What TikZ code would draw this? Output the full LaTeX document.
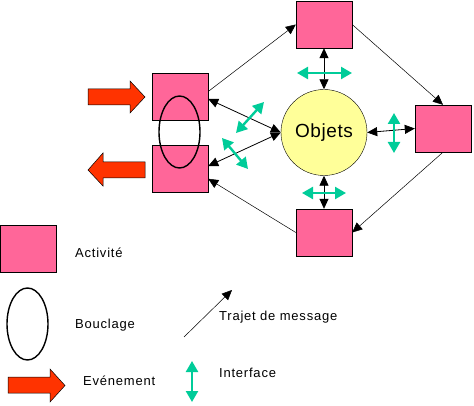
\documentclass[tikz,border=0pt]{standalone}
\usepackage{fontspec}
\setmainfont{Liberation Sans}
\usetikzlibrary{arrows.meta}

\definecolor{rose}{HTML}{FF6699}
\definecolor{jaune}{HTML}{FFFF99}
\definecolor{turquoise}{HTML}{00CC99}
\definecolor{rouge}{HTML}{FF3300}

\begin{document}
\begin{tikzpicture}[x=1pt,y=-1pt]
\tikzstyle{activite}=[draw, fill=rose, minimum width=56pt, minimum height=47pt, inner sep=0pt]
\tikzstyle{message}=[-{Triangle[length=10pt,width=9pt]}, line width=0.5pt]
\tikzstyle{lien}=[{Triangle[length=10pt,width=9pt]}-{Triangle[length=10pt,width=9pt]}, line width=0.8pt]
\tikzstyle{interface}=[{Triangle[length=11pt,width=12pt]}-{Triangle[length=11pt,width=12pt]}, line width=2.4pt, draw=turquoise, color=turquoise]
\tikzstyle{evt}=[draw=black, fill=rouge, line width=0.5pt]
\tikzstyle{legende}=[anchor=west, inner sep=0pt, font=\fontsize{13}{15}\selectfont\addfontfeature{LetterSpace=6}]
\useasboundingbox (0,0) rectangle (474,406);
% activites
\node (acthaut) [activite] at (324,24.5) {};
\node (actdroite) [activite] at (443,128.5) {};
\node (actbas) [activite] at (324,232.5) {};
\node (acthg) [activite] at (180,96.5) {};
\node (actbg) [activite] at (180,168.5) {};
\node (objets) [draw, circle, fill=jaune, minimum size=86pt, inner sep=0pt, font=\fontsize{19}{21}\selectfont\addfontfeature{LetterSpace=3}] at (324,132.5) {Objets};
\draw[line width=1.4pt] (179.5,132) ellipse (20.5 and 36);
\coordinate (boucle) at (179.5,132);
% evenements
\draw[evt] (88,89) -- (130,89) -- (130,81) -- (145,97) -- (130,113) -- (130,105) -- (88,105) -- cycle;
\draw[evt] (145,162) -- (103,162) -- (103,153) -- (88,170) -- (103,186) -- (103,178) -- (145,178) -- cycle;
% trajets de message
\draw[message] (acthg.10) -- (acthaut.west);
\draw[message] (acthaut.east) -- (actdroite.north);
\draw[message] (actdroite.south) -- (actbas.east);
\draw[message] (actbas.west) -- (actbg.-20);
% liens avec les objets
\draw[lien] (acthaut.south) -- (objets.north);
\draw[lien] (actbas.north) -- (objets.south);
\draw[lien] (actdroite.west) -- (objets.east);
\draw[lien] (acthg.-5) -- (objets.west);
\draw[lien] (actbg.5) -- (objets.west);
% interfaces
\coordinate (i1a) at (297,73); \coordinate (i1b) at (352,73);
\coordinate (i2a) at (302,193); \coordinate (i2b) at (346,193);
\coordinate (i3a) at (394,113); \coordinate (i3b) at (394,153);
\coordinate (i4a) at (236,133); \coordinate (i4b) at (264,102);
\coordinate (i5a) at (222,138); \coordinate (i5b) at (248,169);
\draw[interface] (i1a) -- (i1b);
\draw[interface] (i2a) -- (i2b);
\draw[interface] (i3a) -- (i3b);
\draw[interface] (i4a) -- (i4b);
\draw[interface] (i5a) -- (i5b);
% legende
\node (legact) [activite] at (28.5,248.5) {};
\node (txtact) [legende] at (75,253) {Activité};
\draw[line width=1.4pt] (27.5,324) ellipse (20.5 and 36);
\coordinate (legboucle) at (27.5,324);
\node (txtboucle) [legende] at (75,325) {Bouclage};
\draw[evt] (8,377) -- (50,377) -- (50,369) -- (65,385.5) -- (50,402) -- (50,393) -- (8,393) -- cycle;
\node (txtevt) [legende] at (83,381) {Evénement};
\coordinate (msga) at (184,337); \coordinate (msgb) at (232,290);
\draw[message] (msga) -- (msgb);
\node (txtmsg) [legende] at (219,317) {Trajet de message};
\coordinate (inta) at (192,361); \coordinate (intb) at (192,402);
\draw[interface] (inta) -- (intb);
\node (txtint) [legende] at (219,373) {Interface};
\end{tikzpicture}
\end{document}
